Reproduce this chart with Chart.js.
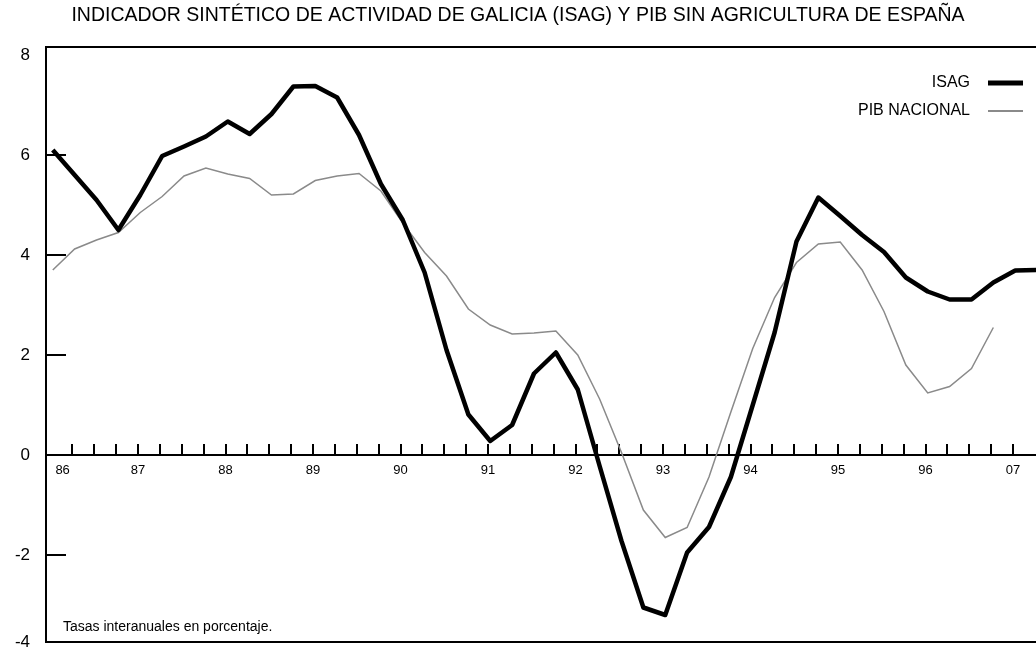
<!DOCTYPE html>
<html>
<head>
<meta charset="utf-8">
<script src="https://cdn.jsdelivr.net/npm/chart.js@4.4.1/dist/chart.umd.min.js"></script>
<style>
  html, body { margin: 0; padding: 0; background: #fff; }
</style>
</head>
<body>
<canvas id="chart" width="1036" height="653"></canvas>
<script>
// Year-on-year rates (%), one value per quarter starting 1986 Q1
var isagValues = [6.1, 5.6, 5.1, 4.5, 5.2, 5.98, 6.17, 6.37, 6.67, 6.42, 6.82, 7.37,
  7.38, 7.15, 6.4, 5.42, 4.7, 3.65, 2.1, 0.81, 0.28, 0.6, 1.63, 2.05,
  1.31, -0.22, -1.72, -3.05, -3.2, -1.95, -1.44, -0.44, 1.0, 2.45, 4.27, 5.15,
  4.78, 4.4, 4.06, 3.55, 3.27, 3.11, 3.11, 3.45, 3.69, 3.7];
var pibValues = [3.7, 4.12, 4.3, 4.45, 4.85, 5.17, 5.58, 5.74, 5.62, 5.53, 5.2, 5.22,
  5.49, 5.58, 5.63, 5.28, 4.64, 4.05, 3.58, 2.92, 2.6, 2.42, 2.44, 2.48,
  2.0, 1.12, 0.05, -1.1, -1.65, -1.45, -0.44, 0.86, 2.13, 3.15, 3.85, 4.22,
  4.26, 3.7, 2.87, 1.8, 1.24, 1.37, 1.73, 2.55];
var seriesNames = ["ISAG", "PIB NACIONAL"];
var yearLabels = ["86", "87", "88", "89", "90", "91", "92", "93", "94", "95", "96", "07"];
var yTickValues = [-4, -2, 0, 2, 4, 6, 8];
var titleText = "INDICADOR SINTÉTICO DE ACTIVIDAD DE GALICIA (ISAG) Y PIB SIN AGRICULTURA DE ESPAÑA";
var noteText = "Tasas interanuales en porcentaje.";

var FONT = '"Liberation Sans", Arial, sans-serif';

// quarter index -> x value (points sit just after the quarter tick)
function toPoints(values) {
  return values.map(function (v, i) { return { x: i + 0.1, y: v }; });
}

// top and bottom edges of the frame
var framePlugin = {
  id: "frame",
  afterDraw: function (chart) {
    var a = chart.chartArea;
    var ctx = chart.ctx;
    ctx.save();
    ctx.strokeStyle = "#000";
    ctx.lineWidth = 2;
    ctx.beginPath();
    ctx.moveTo(a.left, a.top); ctx.lineTo(a.right, a.top);
    ctx.moveTo(a.left, a.bottom); ctx.lineTo(a.right, a.bottom);
    ctx.stroke();
    ctx.restore();
  }
};

// legend in the upper right corner (text first, then the line sample) and the note
var cornerLegend = {
  id: "cornerLegend",
  afterDraw: function (chart) {
    var ctx = chart.ctx;
    var a = chart.chartArea;
    ctx.save();
    ctx.font = "16px " + FONT;
    ctx.textAlign = "right";
    ctx.textBaseline = "middle";
    chart.data.datasets.forEach(function (ds, i) {
      var y = a.top + 36 + i * 28;
      ctx.fillStyle = "#000";
      ctx.fillText(ds.label, a.right - 66, y);
      ctx.strokeStyle = ds.borderColor;
      ctx.lineWidth = i === 0 ? 5 : 2;
      ctx.beginPath();
      ctx.moveTo(a.right - 48, y);
      ctx.lineTo(a.right - 13, y);
      ctx.stroke();
    });
    ctx.fillStyle = "#000";
    ctx.textAlign = "left";
    ctx.font = "14px " + FONT;
    ctx.fillText(noteText, a.left + 17, a.bottom - 15);
    ctx.restore();
  }
};

new Chart(document.getElementById("chart"), {
  type: "line",
  data: {
    datasets: [
      {
        label: seriesNames[0],
        data: toPoints(isagValues),
        borderColor: "#000",
        borderWidth: 4.5,
        pointRadius: 0,
        tension: 0,
        borderJoinStyle: "round"
      },
      {
        label: seriesNames[1],
        data: toPoints(pibValues),
        borderColor: "#8a8a8a",
        borderWidth: 1.5,
        pointRadius: 0,
        tension: 0
      }
    ]
  },
  options: {
    responsive: false,
    animation: false,
    devicePixelRatio: 1,
    layout: { padding: { left: 0, right: 0, top: 0, bottom: 11 } },
    plugins: {
      legend: { display: false },
      tooltip: { enabled: false },
      title: {
        display: true,
        text: titleText,
        color: "#000",
        font: { family: FONT, size: 19.5, weight: "normal" },
        padding: { top: 4, bottom: 19.6 }
      }
    },
    scales: {
      x: {
        type: "linear",
        min: -0.21,
        max: 45.05,
        position: { y: 0 },
        border: { display: true, color: "#000", width: 2 },
        grid: {
          drawOnChartArea: false,
          drawTicks: true,
          tickLength: -12,
          lineWidth: 2,
          color: function (c) {
            return c.tick && c.tick.value % 1 !== 0 ? "rgba(0,0,0,0)" : "#000";
          }
        },
        afterBuildTicks: function (scale) {
          // quarterly marks; first year label nudged clear of the frame
          var t = [{ value: 0.55 }];
          for (var q = 1; q <= 44; q++) t.push({ value: q });
          scale.ticks = t;
        },
        afterFit: function (scale) {
          // the axis sits on the zero line, it takes no room of its own
          scale.height = 0;
          scale.paddingLeft = 0;
          scale.paddingRight = 0;
        },
        ticks: {
          autoSkip: false,
          maxRotation: 0,
          padding: 20,
          color: "#000",
          font: { family: FONT, size: 13 },
          callback: function (value) {
            if (value < 1) return yearLabels[0];
            return value % 4 === 0 ? yearLabels[value / 4] : "";
          }
        }
      },
      y: {
        type: "linear",
        position: "left",
        min: -3.74,
        max: 8.16,
        border: { display: true, color: "#000", width: 2 },
        grid: {
          drawOnChartArea: false,
          drawTicks: true,
          tickLength: -20,
          lineWidth: 2,
          color: function (c) {
            return c.tick && c.tick.value >= 8 ? "rgba(0,0,0,0)" : "#000";
          }
        },
        afterBuildTicks: function (scale) {
          // labels below the frame are pinned to its bottom edge
          scale.ticks = yTickValues.map(function (v) {
            return { value: Math.max(v, scale.min) };
          });
        },
        afterFit: function (scale) {
          scale.width = 46;
          scale.paddingTop = 0;
          scale.paddingBottom = 0;
        },
        ticks: {
          autoSkip: false,
          padding: 36,
          color: "#000",
          font: { family: FONT, size: 17 },
          callback: function (value, index) { return String(yTickValues[index]); }
        }
      }
    }
  },
  plugins: [framePlugin, cornerLegend]
});
</script>
</body>
</html>
